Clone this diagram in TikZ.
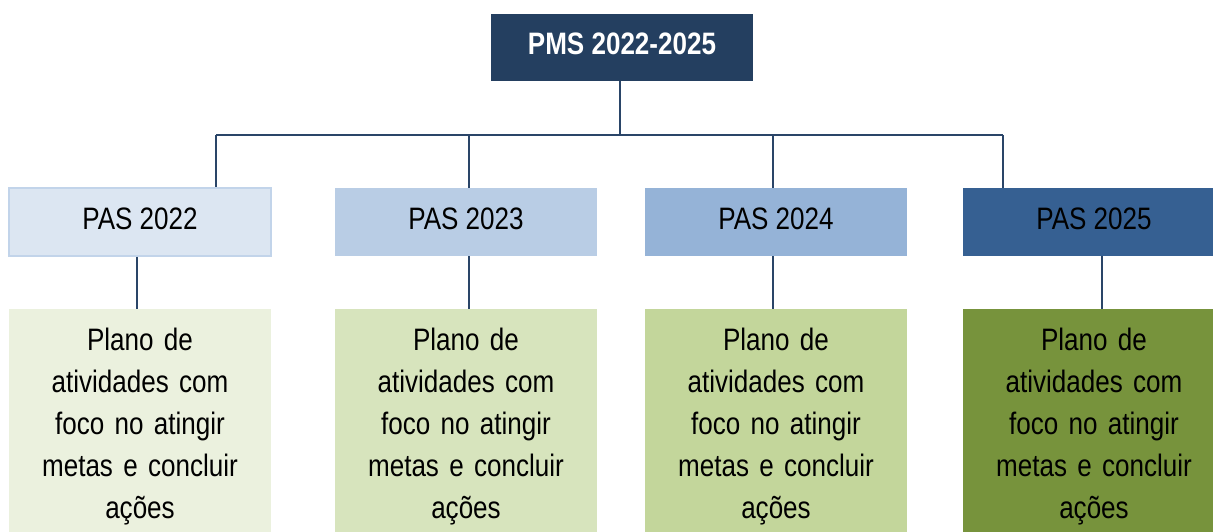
\documentclass[tikz,border=0pt]{standalone}
\usepackage{fontspec}
\setmainfont{Liberation Sans}[FakeStretch=0.84]
\definecolor{navy}{HTML}{243F60}
\definecolor{conncol}{HTML}{2A4568}
\definecolor{pasA}{HTML}{DCE6F2}
\definecolor{pasAedge}{HTML}{C2D4EA}
\definecolor{pasB}{HTML}{B9CDE5}
\definecolor{pasC}{HTML}{95B3D7}
\definecolor{pasD}{HTML}{366092}
\definecolor{plA}{HTML}{EBF1DE}
\definecolor{plB}{HTML}{D7E4BD}
\definecolor{plC}{HTML}{C3D69B}
\definecolor{plD}{HTML}{77933C}
\tikzset{
  topbox/.style={rectangle, fill=navy, minimum width=262pt, minimum height=67pt, inner sep=0pt,
     text=white, font=\fontsize{31}{36}\selectfont\bfseries, text height=22pt, text depth=9pt},
  pasbox/.style={rectangle, minimum width=262pt, minimum height=68pt, inner sep=0pt,
     font=\fontsize{31}{36}\selectfont, text height=22.2pt, text depth=7pt},
  planbox/.style={rectangle, minimum width=262pt, minimum height=260pt, inner sep=0pt},
  plantext/.style={anchor=base, text width=250pt, align=center, inner sep=0pt,
     font=\fontsize{31}{42}\selectfont},
  conn/.style={draw=conncol, line width=2pt}
}
\begin{document}
\begin{tikzpicture}[x=1pt,y=-1pt]
\useasboundingbox (0,0) rectangle (1213,531);
\clip (0,0) rectangle (1213,531);
\node[topbox] (top) at (622,47.5) {PMS 2022-2025};
\node[pasbox, fill=pasA, draw=pasAedge, line width=1.5pt] (p1) at (140,222) {PAS 2022};
\node[pasbox, fill=pasB] (p2) at (466,222) {PAS 2023};
\node[pasbox, fill=pasC] (p3) at (776,222) {PAS 2024};
\node[pasbox, fill=pasD] (p4) at (1094,222) {PAS 2025};
\node[planbox, fill=plA] (b1) at (140,439) {};
\node[planbox, fill=plB] (b2) at (466,439) {};
\node[planbox, fill=plC] (b3) at (776,439) {};
\node[planbox, fill=plD] (b4) at (1094,439) {};
\foreach \i/\x in {1/140,2/466,3/776,4/1094}{
  \node[plantext] (t\i) at (\x,350) {Plano de\\atividades com\\foco no atingir\\metas e concluir\\ações};
}
\coordinate (j0) at (620,135);
\coordinate (j1) at (216,135);
\coordinate (j2) at (469,135);
\coordinate (j3) at (773,135);
\coordinate (j4) at (1003,135);
\coordinate (k1) at (137,0);
\coordinate (k2) at (469,0);
\coordinate (k3) at (773,0);
\coordinate (k4) at (1102,0);
\draw[conn] (top.south -| j0) -- (j0);
\draw[conn] (j1) -- (j4);
\draw[conn] (j1) -- (j1 |- p1.north);
\draw[conn] (j2) -- (j2 |- p2.north);
\draw[conn] (j3) -- (j3 |- p3.north);
\draw[conn] (j4) -- (j4 |- p4.north);
\draw[conn] (p1.south -| k1) -- (b1.north -| k1);
\draw[conn] (p2.south -| k2) -- (b2.north -| k2);
\draw[conn] (p3.south -| k3) -- (b3.north -| k3);
\draw[conn] (p4.south -| k4) -- (b4.north -| k4);
\end{tikzpicture}
\end{document}
